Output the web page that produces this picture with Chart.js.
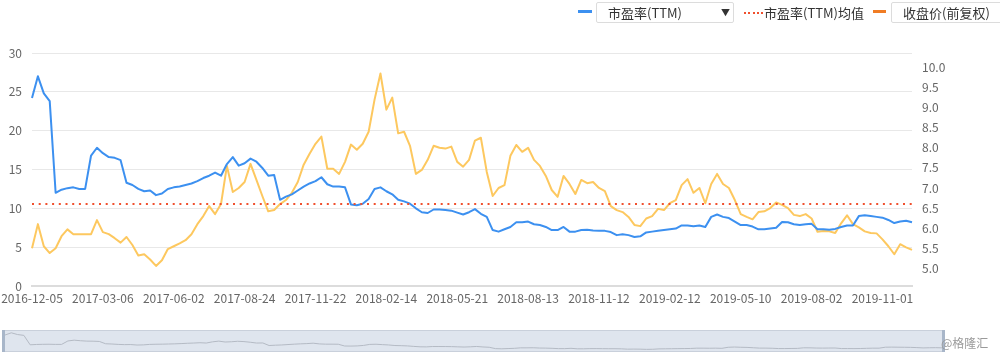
<!DOCTYPE html>
<html>
<head>
<meta charset="utf-8">
<script src="https://cdn.jsdelivr.net/npm/chart.js@4.4.1/dist/chart.umd.min.js"></script>
<style>
html,body{margin:0;padding:0;background:#fff;}
body{width:1000px;height:358px;position:relative;overflow:hidden;font-family:"Noto Sans CJK SC","Microsoft YaHei",sans-serif;}
#main{position:absolute;left:0;top:0;}
#mini{position:absolute;left:2px;top:330px;}
.lg{position:absolute;font-size:13px;color:#333;line-height:21px;white-space:nowrap;}
.box{position:absolute;top:2px;height:21px;border:1px solid #dcdcdc;border-radius:2px;background:#fff;box-sizing:border-box;}
.ico{position:absolute;height:3px;top:10px;}
#wm{position:absolute;left:941px;top:334px;font-size:12px;color:#9a9a9a;line-height:18px;}
</style>
</head>
<body>
<canvas id="main" width="1000" height="312"></canvas>
<canvas id="mini" width="943" height="22"></canvas>

<div class="ico" style="left:578px;width:14px;background:#3c90f0;"></div>
<div class="box" style="left:596px;width:138px;"></div>
<div class="lg" style="left:608px;top:2px;">市盈率(TTM)</div>
<div class="lg" style="left:721px;top:2px;font-size:9px;">▼</div>
<div class="ico" style="left:744px;width:19px;height:2px;top:12px;background:repeating-linear-gradient(90deg,#f0502e 0 2px,transparent 2px 4.3px);"></div>
<div class="lg" style="left:764px;top:2px;">市盈率(TTM)均值</div>
<div class="ico" style="left:873px;width:13px;background:#f07c24;"></div>
<div class="box" style="left:891px;width:130px;"></div>
<div class="lg" style="left:903px;top:2px;">收盘价(前复权)</div>
<div id="wm">@格隆汇</div>

<script>
// ---- data ----
const tickLabels = ['2016-12-05','2017-03-06','2017-06-02','2017-08-24','2017-11-22','2018-02-14','2018-05-21','2018-08-13','2018-11-12','2019-02-12','2019-05-10','2019-08-02','2019-11-01'];
const labelEvery = 12;
const leftTicks = [0,5,10,15,20,25,30];
const rightTicks = [5.0,5.5,6.0,6.5,7.0,7.5,8.0,8.5,9.0,9.5,10.0];
const peMean = 10.55;

const pe = [
24.2,27.0,24.8,23.8,12.0,12.4,12.6,12.7,12.5,12.5,
16.8,17.8,17.1,16.6,16.5,16.2,13.3,13.0,12.5,12.2,
12.3,11.7,11.9,12.5,12.7,12.8,13.0,13.2,13.5,13.9,
14.2,14.6,14.2,15.7,16.6,15.5,15.8,16.4,16.0,15.2,
14.2,14.3,11.1,11.5,11.8,12.3,12.8,13.2,13.5,14.0,
13.1,12.8,12.8,12.7,10.5,10.4,10.6,11.2,12.5,12.7,
12.2,11.8,11.1,10.9,10.6,10.0,9.5,9.4,9.85,9.85,
9.8,9.7,9.45,9.2,9.5,9.9,9.3,8.9,7.2,7.0,
7.3,7.6,8.2,8.2,8.3,7.95,7.85,7.6,7.2,7.2,
7.6,7.0,7.0,7.2,7.25,7.15,7.1,7.1,6.95,6.55,
6.65,6.55,6.3,6.4,6.9,7.0,7.1,7.2,7.3,7.4,
7.8,7.8,7.7,7.8,7.6,8.9,9.2,8.9,8.75,8.3,
7.85,7.85,7.65,7.3,7.3,7.4,7.5,8.25,8.2,7.95,
7.85,7.95,8.0,7.3,7.3,7.25,7.35,7.6,7.8,7.8,
9.0,9.1,9.0,8.9,8.8,8.5,8.1,8.3,8.4,8.2
];

const price = [
5.50,6.10,5.55,5.38,5.50,5.80,5.97,5.85,5.85,5.85,
5.85,6.20,5.90,5.85,5.75,5.64,5.78,5.58,5.32,5.35,
5.22,5.06,5.20,5.48,5.55,5.62,5.70,5.85,6.10,6.30,
6.55,6.35,6.60,7.55,6.90,7.00,7.15,7.60,7.20,6.80,
6.42,6.45,6.60,6.70,6.88,7.15,7.58,7.85,8.10,8.28,
7.48,7.48,7.35,7.65,8.08,7.95,8.10,8.40,9.20,9.85,
8.95,9.25,8.36,8.40,8.05,7.35,7.45,7.70,8.05,8.00,
7.98,8.03,7.65,7.53,7.70,8.18,8.25,7.40,6.80,7.00,
7.07,7.80,8.07,7.90,8.00,7.70,7.55,7.30,6.95,6.78,
7.30,7.10,6.85,7.20,7.12,7.15,7.00,6.92,6.55,6.45,
6.40,6.28,6.08,6.05,6.24,6.30,6.48,6.45,6.62,6.70,
7.07,7.22,6.88,7.00,6.62,7.10,7.35,7.10,7.00,6.70,
6.35,6.28,6.22,6.40,6.42,6.50,6.64,6.58,6.50,6.33,
6.30,6.35,6.24,5.91,5.93,5.92,5.88,6.12,6.32,6.10,
6.02,5.92,5.88,5.87,5.72,5.55,5.35,5.60,5.52,5.46
];

const categories = pe.map((_, i) => i % labelEvery === 0 ? tickLabels[i / labelEvery] : '');

const FONT = {family: '"Noto Sans CJK SC", "Microsoft YaHei", sans-serif', size: 12};

new Chart(document.getElementById('main'), {
  type: 'line',
  data: {
    labels: categories,
    datasets: [
      {label: '市盈率(TTM)均值', data: pe.map(() => peMean), yAxisID: 'y', order: 0,
       borderColor: '#f0502e', borderWidth: 2, borderDash: [2, 4.7], pointRadius: 0, tension: 0},
      {label: '市盈率(TTM)', data: pe, yAxisID: 'y', order: 1,
       borderColor: '#3c90f0', borderWidth: 2, pointRadius: 0, tension: 0, borderJoinStyle: 'round'},
      {label: '收盘价(前复权)', data: price, yAxisID: 'y1', order: 2,
       borderColor: '#fdc85f', borderWidth: 2, pointRadius: 0, tension: 0, borderJoinStyle: 'round'}
    ]
  },
  options: {
    responsive: false,
    animation: false,
    layout: {padding: {top: 53, left: 0, right: 0, bottom: 0}},
    plugins: {legend: {display: false}, tooltip: {enabled: false}},
    scales: {
      x: {
        grid: {display: false, drawTicks: false},
        border: {display: true, color: '#dcdcdc', width: 2},
        ticks: {autoSkip: false, maxRotation: 0, minRotation: 0, padding: 5, color: '#666', font: FONT,
          callback: (v, i) => categories[i] ? categories[i] : null},
        afterFit: s => { s.height = 26; s.paddingLeft = 0; s.paddingRight = 0; }
      },
      y: {
        position: 'left', min: 0, max: 30,
        afterBuildTicks: s => { s.ticks = leftTicks.map(v => ({value: v})); },
        grid: {drawTicks: false, color: c => c.tick && c.tick.value === 0 ? 'rgba(0,0,0,0)' : '#e8e8e8', lineWidth: 1},
        border: {display: false},
        ticks: {padding: 10, color: '#666', font: FONT},
        afterFit: s => { s.width = 32; }
      },
      y1: {
        position: 'right', min: 4.56, max: 10.36,
        afterBuildTicks: s => { s.ticks = rightTicks.map(v => ({value: v})); },
        grid: {display: false, drawTicks: false},
        border: {display: false},
        ticks: {padding: 10, color: '#666', font: FONT, callback: v => Number(v).toFixed(1)},
        afterFit: s => { s.width = 88; }
      }
    }
  }
});

const sliderBg = {
  id: 'sliderBg',
  beforeDraw(chart) {
    const {ctx, width, height} = chart;
    ctx.save();
    ctx.fillStyle = '#dfe5ee';
    ctx.fillRect(0, 0, width, height);
    ctx.strokeStyle = '#c9d0db';
    ctx.lineWidth = 1;
    ctx.strokeRect(0.5, 0.5, width - 1, height - 1);
    ctx.fillStyle = '#a8b6c9';
    ctx.fillRect(0, 0, 3, height);
    ctx.fillRect(width - 3, 0, 3, height);
    ctx.restore();
  }
};

new Chart(document.getElementById('mini'), {
  type: 'line',
  data: {labels: categories, datasets: [{data: pe, borderColor: '#b4bac4', borderWidth: 1, pointRadius: 0, tension: 0}]},
  options: {
    responsive: false, animation: false,
    layout: {padding: {left: 3, right: 3, top: 2, bottom: 2}},
    plugins: {legend: {display: false}, tooltip: {enabled: false}},
    scales: {x: {display: false}, y: {display: false, min: 5.5, max: 28}}
  },
  plugins: [sliderBg]
});
</script>
</body>
</html>
